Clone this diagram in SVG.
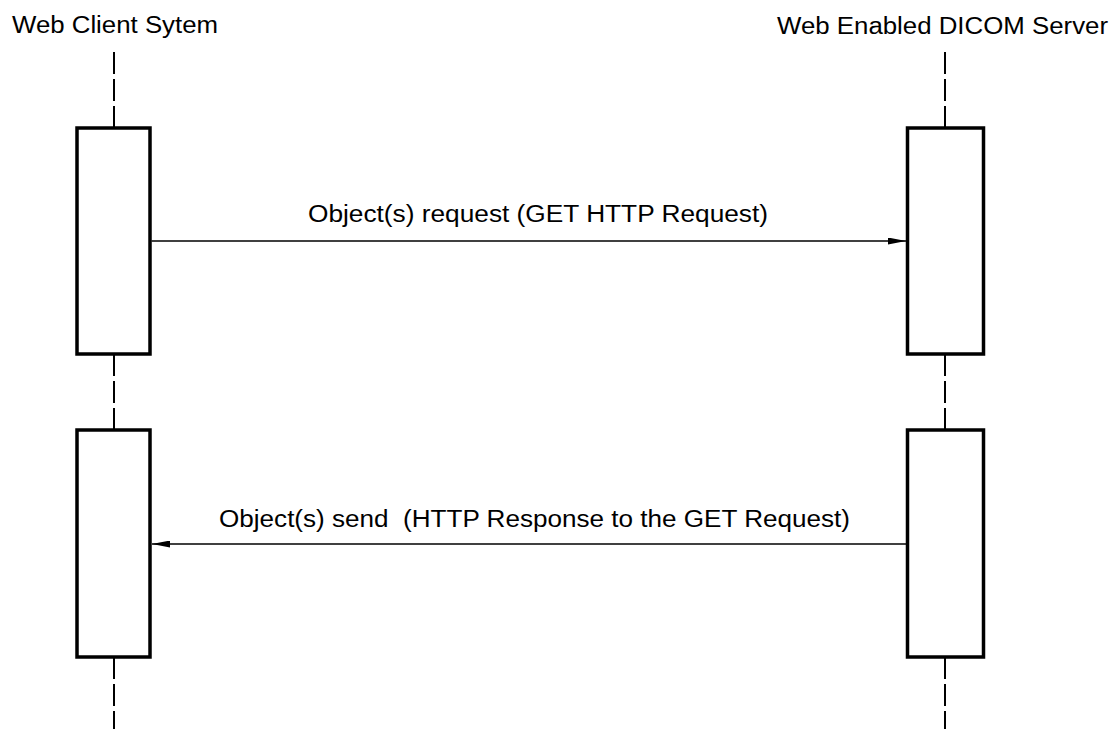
<svg xmlns="http://www.w3.org/2000/svg" width="1114" height="729" viewBox="0 0 1114 729">
<style>
text{font-family:"Liberation Sans",Arial,sans-serif;font-size:23px;fill:#000}
.life{stroke:#000;stroke-width:2;stroke-dasharray:22 5;fill:none}
.act{fill:#fff;stroke:#000;stroke-width:3.5}
.msg{stroke:#000;stroke-width:1.5;fill:none}
</style>
<defs>
<marker id="ah" viewBox="0 0 18 7" refX="18" refY="3.5" markerWidth="18" markerHeight="7" markerUnits="userSpaceOnUse" orient="auto">
<path d="M0,0 L18,3.5 L0,7 z" fill="#000"/>
</marker>
</defs>
<rect width="1114" height="729" fill="#fff"/>
<g id="lifelines">
<line class="life" x1="114" y1="52" x2="114" y2="128"/>
<line class="life" x1="114" y1="354" x2="114" y2="430"/>
<line class="life" x1="114" y1="657" x2="114" y2="729"/>
<line class="life" x1="945" y1="52" x2="945" y2="128"/>
<line class="life" x1="945" y1="354" x2="945" y2="430"/>
<line class="life" x1="945" y1="657" x2="945" y2="729"/>
</g>
<g id="client">
<text x="12" y="33" textLength="206" lengthAdjust="spacingAndGlyphs">Web Client Sytem</text>
<rect class="act" x="77" y="128" width="73" height="226"/>
<rect class="act" x="77" y="430" width="73" height="227"/>
</g>
<g id="server">
<text x="777" y="34" textLength="331" lengthAdjust="spacingAndGlyphs">Web Enabled DICOM Server</text>
<rect class="act" x="907.5" y="128" width="76" height="226"/>
<rect class="act" x="907.5" y="430" width="76" height="227"/>
</g>
<g id="connectors">
<line class="msg" x1="151.5" y1="241" x2="906" y2="241" marker-end="url(#ah)"/>
<text x="308" y="222" textLength="460" lengthAdjust="spacingAndGlyphs">Object(s) request (GET HTTP Request)</text>
<line class="msg" x1="906" y1="544" x2="152" y2="544" marker-end="url(#ah)"/>
<text x="219" y="527" textLength="631" lengthAdjust="spacingAndGlyphs" xml:space="preserve">Object(s) send  (HTTP Response to the GET Request)</text>
</g>
</svg>
